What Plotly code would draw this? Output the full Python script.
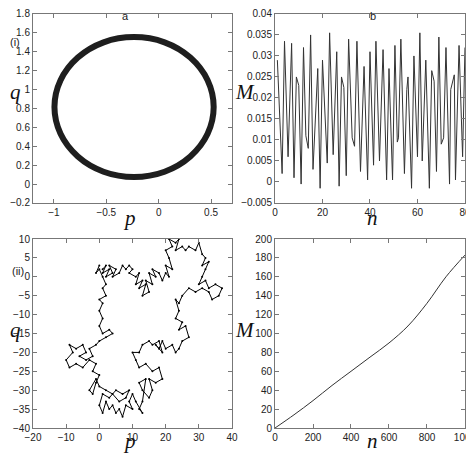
import plotly.graph_objects as go
from plotly.subplots import make_subplots

# (i) a: ring in phase plane
ring_p = [0.525, 0.467, 0.302, 0.056, -0.235, -0.526, -0.772, -0.937, -0.995,
          -0.937, -0.772, -0.526, -0.235, 0.056, 0.302, 0.467, 0.525]
ring_q = [0.815, 1.098, 1.338, 1.499, 1.555, 1.499, 1.338, 1.098, 0.815,
          0.532, 0.292, 0.131, 0.075, 0.131, 0.292, 0.532, 0.815]

# (i) b: oscillating M(n)
osc_n = [1, 3, 4, 5.5, 7, 8, 9, 10, 11, 12, 13, 14, 15, 16, 18, 19, 20, 22, 23, 24.5,
         26, 27, 28, 29, 30, 31, 32.5, 33.5, 34.5, 36, 37.5, 39, 40, 41.5, 42.5, 44,
         45.5, 47, 48, 49.5, 50.5, 51.5, 52, 53, 54.5, 55.5, 56, 57.5, 58.5, 60, 61,
         62, 63.5, 65, 66, 67, 68, 69, 70, 71, 72, 73.5, 74, 75.5, 76, 77.5, 79, 80]
osc_m = [0.029, 0.002, 0.0335, 0.006, 0.033, 0.001, 0.025, 0.023, -0.0005, 0.032,
         0.011, 0.008, 0.035, 0.003, 0.027, -0.0015, 0.029, 0.0045, 0.0355, 0.0065,
         0.031, -0.001, 0.025, 0.0225, 0.0015, 0.034, 0.0105, 0.0085, 0.0335, 0.0025,
         0.0275, 0.0005, 0.031, 0.004, 0.0335, 0.005, 0.0315, 0.0005, 0.027, 0.0005,
         0.0325, 0.0095, 0.0105, 0.034, 0.002, 0.022, 0.025, -0.0015, 0.030, 0.006,
         0.0355, 0.005, 0.029, -0.0015, 0.0265, 0.024, 0.0025, 0.0345, 0.009, 0.0105,
         0.032, -0.0005, 0.022, 0.0255, 0.0005, 0.0325, 0.006, 0.032]

# (ii) a: random-walk-like trajectory
walk_p = [1, 2, 1, 3, 2, 4, 3, 5, 4, 6, 7, 8, 9, 10, 9, 11, 12, 11, 13, 12, 14, 13, 15,
          14, 16, 15, 17, 16, 18, 19, 20, 21, 20, 22, 21, 20, 22, 21, 23, 24, 23, 25,
          26, 27, 29, 30, 31, 32, 31, 33, 32, 31, 30, 32, 33, 35, 37, 36, 34, 33, 31,
          29, 27, 25, 24, 23, 24, 23, 25, 24, 26, 27, 25, 24, 23, 22, 20, 19, 18, 17,
          19, 18, 16, 15, 13, 12, 10, 11, 12, 14, 16, 18, 19, 17, 15, 16, 15, 13, 12,
          14, 13, 12, 13, 11, 10, 9, 10, 8, 7, 6, 5, 4, 3, 2, 1, 0, 1, 3, 5, 7, 9, 8,
          6, 4, 2, 0, -1, -3, -2, -1, 0, -2, -1, -3, -5, -7, -9, -10, -8, -9, -7, -5,
          -4, -6, -4, -2, -3, -1, 0, 2, 4, 3, 1, 0, 1, 0, 1, 0, 2, 1, 2, 1, 0, -1, 0]
walk_q = [2, 3, 1, 2, 0, 1, 3, 2, 0, 1, 3, 2, 3, 2, 1, 0, 1, -2, -1, -3, -2, -5, -4,
          -1, -2, 1, 0, 2, 1, -1, 1, 0, 3, 2, 5, 7, 8, 10, 9, 10, 7, 8, 7, 8, 7, 9, 6,
          5, 3, 4, 2, 0, -2, -1, -3, -2, -3, -5, -6, -4, -3, -4, -3, -5, -7, -6, -9,
          -11, -12, -14, -13, -16, -17, -19, -20, -18, -19, -17, -19, -18, -20, -17,
          -18, -17, -18, -20, -20, -22, -24, -23, -25, -24, -27, -28, -27, -30, -32,
          -30, -28, -27, -33, -35, -36, -33, -31, -33, -35, -34, -37, -35, -36, -34,
          -35, -33, -36, -34, -31, -32, -30, -31, -30, -32, -33, -31, -30, -29, -27,
          -30, -31, -28, -26, -25, -23, -22, -24, -23, -24, -22, -20, -18, -19, -18,
          -20, -21, -22, -21, -19, -18, -17, -16, -15, -14, -15, -13, -11, -9, -7,
          -6, -5, -3, -2, 0, 2, 1, 3]

# (ii) b: growing M(n)
grow_n = [0, 100, 200, 300, 400, 500, 600, 700, 800, 900, 1000]
grow_m = [0, 14, 29, 45, 60, 75, 90, 108, 132, 160, 183]

fig = make_subplots(rows=2, cols=2)
fig.add_trace(go.Scatter(x=ring_p, y=ring_q, mode="lines", line=dict(color="#1e1e1e", width=6, shape="spline")), 1, 1)
fig.add_trace(go.Scatter(x=osc_n, y=osc_m, mode="lines", line=dict(color="#333", width=1)), 1, 2)
fig.add_trace(go.Scatter(x=walk_p, y=walk_q, mode="lines+markers", line=dict(color="black", width=1),
                         marker=dict(size=2, color="black")), 2, 1)
fig.add_trace(go.Scatter(x=grow_n, y=grow_m, mode="lines", line=dict(color="#333", width=1, shape="spline")), 2, 2)

# the page puts the figure 8px in from the corner, so domains are shifted to compensate
xd = [[0.0527, 0.4726], [0.5633, 0.9641]]
yd = [[0.5724, 0.987], [0.0789, 0.4934]]
ax = dict(showgrid=False, zeroline=False, showline=True, linecolor="#777", linewidth=1, mirror="ticks",
          ticks="inside", ticklen=4, tickcolor="#777", tickfont=dict(size=10, color="#222"),
          automargin=False)
fig.update_layout(
    xaxis=dict(ax, domain=xd[0], range=[-1.2, 0.7], tickvals=[-1, -0.5, 0, 0.5]),
    yaxis=dict(ax, domain=yd[0], range=[-0.2, 1.8], dtick=0.2),
    xaxis2=dict(ax, domain=xd[1], range=[0, 80], dtick=20),
    yaxis2=dict(ax, domain=yd[0], range=[-0.005, 0.04], dtick=0.005),
    xaxis3=dict(ax, domain=xd[0], range=[-20, 40], dtick=10),
    yaxis3=dict(ax, domain=yd[1], range=[-40, 10], dtick=5),
    xaxis4=dict(ax, domain=xd[1], range=[0, 1000], dtick=200),
    yaxis4=dict(ax, domain=yd[1], range=[0, 200], dtick=20),
    width=474, height=456, margin=dict(l=0, r=0, t=0, b=0),
    plot_bgcolor="white", paper_bgcolor="white", showlegend=False,
    font=dict(family="Liberation Sans"),
)
serif = dict(family="Liberation Serif", size=21, color="#111")
labels = [("<i>q</i>", 0.0, 0.816, "left"), ("<i>p</i>", 0.257, 0.539, "center"),
          ("<i>M</i>", 0.5, 0.816, "center"), ("<i>n</i>", 0.770, 0.539, "center"),
          ("<i>q</i>", 0.0, 0.294, "left"), ("<i>p</i>", 0.257, 0.05, "center"),
          ("<i>M</i>", 0.5, 0.294, "center"), ("<i>n</i>", 0.770, 0.05, "center")]
for t, x, y, xa in labels:
    fig.add_annotation(text=t, x=x, y=y, xref="paper", yref="paper", showarrow=False, font=serif,
                       xanchor=xa, yanchor="middle")
for t, x, y, xa in [("a", 0.247, 1.0, "center"), ("b", 0.770, 1.0, "center"),
                    ("(i)", 0.0, 0.925, "left"), ("(ii)", 0.004, 0.423, "left")]:
    fig.add_annotation(text=t, x=x, y=y, xref="paper", yref="paper", showarrow=False, xanchor=xa,
                       yanchor="top" if y == 1.0 else "middle", font=dict(size=11, color="#222"))
fig.write_html("out.html")
